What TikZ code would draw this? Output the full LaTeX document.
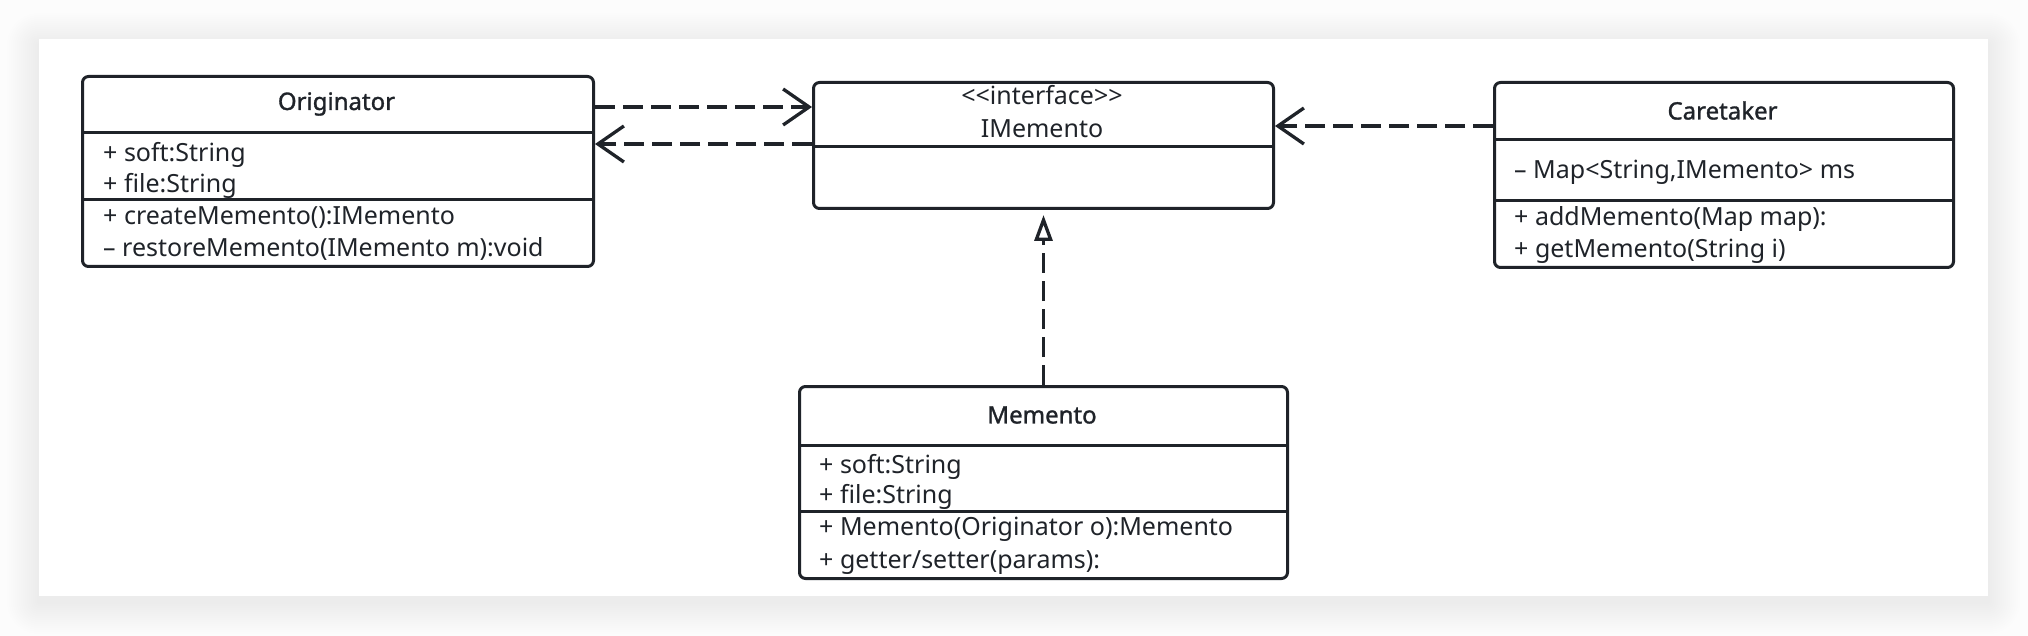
\documentclass[tikz,border=0pt]{standalone}
\usepackage{fontspec}
\setmainfont{Noto Sans}
\newfontfamily\namefont{Noto Sans}[FakeBold=1.3]
\usepackage{xcolor}
\usetikzlibrary{positioning,arrows.meta}

\definecolor{ink}{HTML}{1F2329}
\definecolor{pagebg}{HTML}{FCFCFC}

\begin{document}
\begin{tikzpicture}[x=1pt, y=1pt,
    every node/.style={font=\fontsize{25}{32}\selectfont, text=ink, inner sep=0pt},
    classbox/.style={draw=ink, line width=3pt, rounded corners=6pt, fill=white, anchor=north west},
    classname/.style={font=\namefont\fontsize{24}{30}\selectfont},
    member/.style={anchor=base west},
    divider/.style={draw=ink, line width=3pt},
    dep/.style={draw=ink, line width=3.3pt, dash pattern=on 20pt off 8pt,
        -{Straight Barb[length=26pt, width=36pt]}},
    realize/.style={draw=ink, line width=3.3pt, dash pattern=on 20pt off 8pt,
        -{Triangle[open, length=26pt, width=18pt]}, shorten >=5pt}]

    \useasboundingbox (0,0) rectangle (2028,-636);
    % page and card with soft shadow
    \fill[pagebg] (0,0) rectangle (2028,-636);
    \foreach \d in {1,...,16}
        \fill[black, opacity=0.0042, rounded corners={2*\d}] ({39-2*\d},{-45+2*\d}) rectangle ({1988+2*\d},{-602-2*\d});
    \fill[white] (39,-39) rectangle (1988,-596);

    % Originator
    \node[classbox, minimum width=511pt, minimum height=190pt] (orig) at (81,-75) {};
    \draw[divider] (orig.west |- 0,-133) -- (orig.east |- 0,-133);
    \draw[divider] (orig.west |- 0,-200) -- (orig.east |- 0,-200);
    \node[classname] (orig-t) at (336.5,-104) {Originator};
    \node[member] (o1) at (103,-162) {+ soft:String};
    \node[member] (o2) at (103,-193) {+ file:String};
    \node[member] (o3) at (103,-225) {+ createMemento():IMemento};
    \node[member] (o4) at (103,-257) {– restoreMemento(IMemento m):void};

    % IMemento
    \node[classbox, minimum width=460pt, minimum height=126pt] (imem) at (812,-81) {};
    \draw[divider] (imem.west |- 0,-147) -- (imem.east |- 0,-147);
    \node[anchor=base] (imem-s) at (1042,-105) {{<}{<}interface{>}{>}};
    \node[anchor=base] (imem-t) at (1042,-138) {IMemento};

    % Caretaker
    \node[classbox, minimum width=459pt, minimum height=185pt] (care) at (1493,-81) {};
    \draw[divider] (care.west |- 0,-140) -- (care.east |- 0,-140);
    \draw[divider] (care.west |- 0,-201) -- (care.east |- 0,-201);
    \node[classname] (care-t) at (1722.5,-110.5) {Caretaker};
    \node[member] (c1) at (1514,-179) {– Map<String,IMemento> ms};
    \node[member] (c2) at (1514,-226) {+ addMemento(Map map):};
    \node[member] (c3) at (1514,-258) {+ getMemento(String i)};

    % Memento
    \node[classbox, minimum width=488pt, minimum height=192pt] (memo) at (798,-385) {};
    \draw[divider] (memo.west |- 0,-445) -- (memo.east |- 0,-445);
    \draw[divider] (memo.west |- 0,-511) -- (memo.east |- 0,-511);
    \node[classname] (memo-t) at (1042,-415) {Memento};
    \node[member] (m1) at (819,-473) {+ soft:String};
    \node[member] (m2) at (819,-503) {+ file:String};
    \node[member] (m3) at (819,-535) {+ Memento(Originator o):Memento};
    \node[member] (m4) at (819,-568) {+ getter/setter(params):};

    % relations
    \draw[dep] ([yshift=-32pt]orig.north east) -- ([yshift=-26pt]imem.north west);
    \draw[dep] ([yshift=-63pt]imem.north west) -- ([yshift=-69pt]orig.north east);
    \draw[dep] ([yshift=-45pt]care.north west) -- ([yshift=-45pt]imem.north east);
    \draw[realize] (memo.north) -- (imem.south);
\end{tikzpicture}
\end{document}
